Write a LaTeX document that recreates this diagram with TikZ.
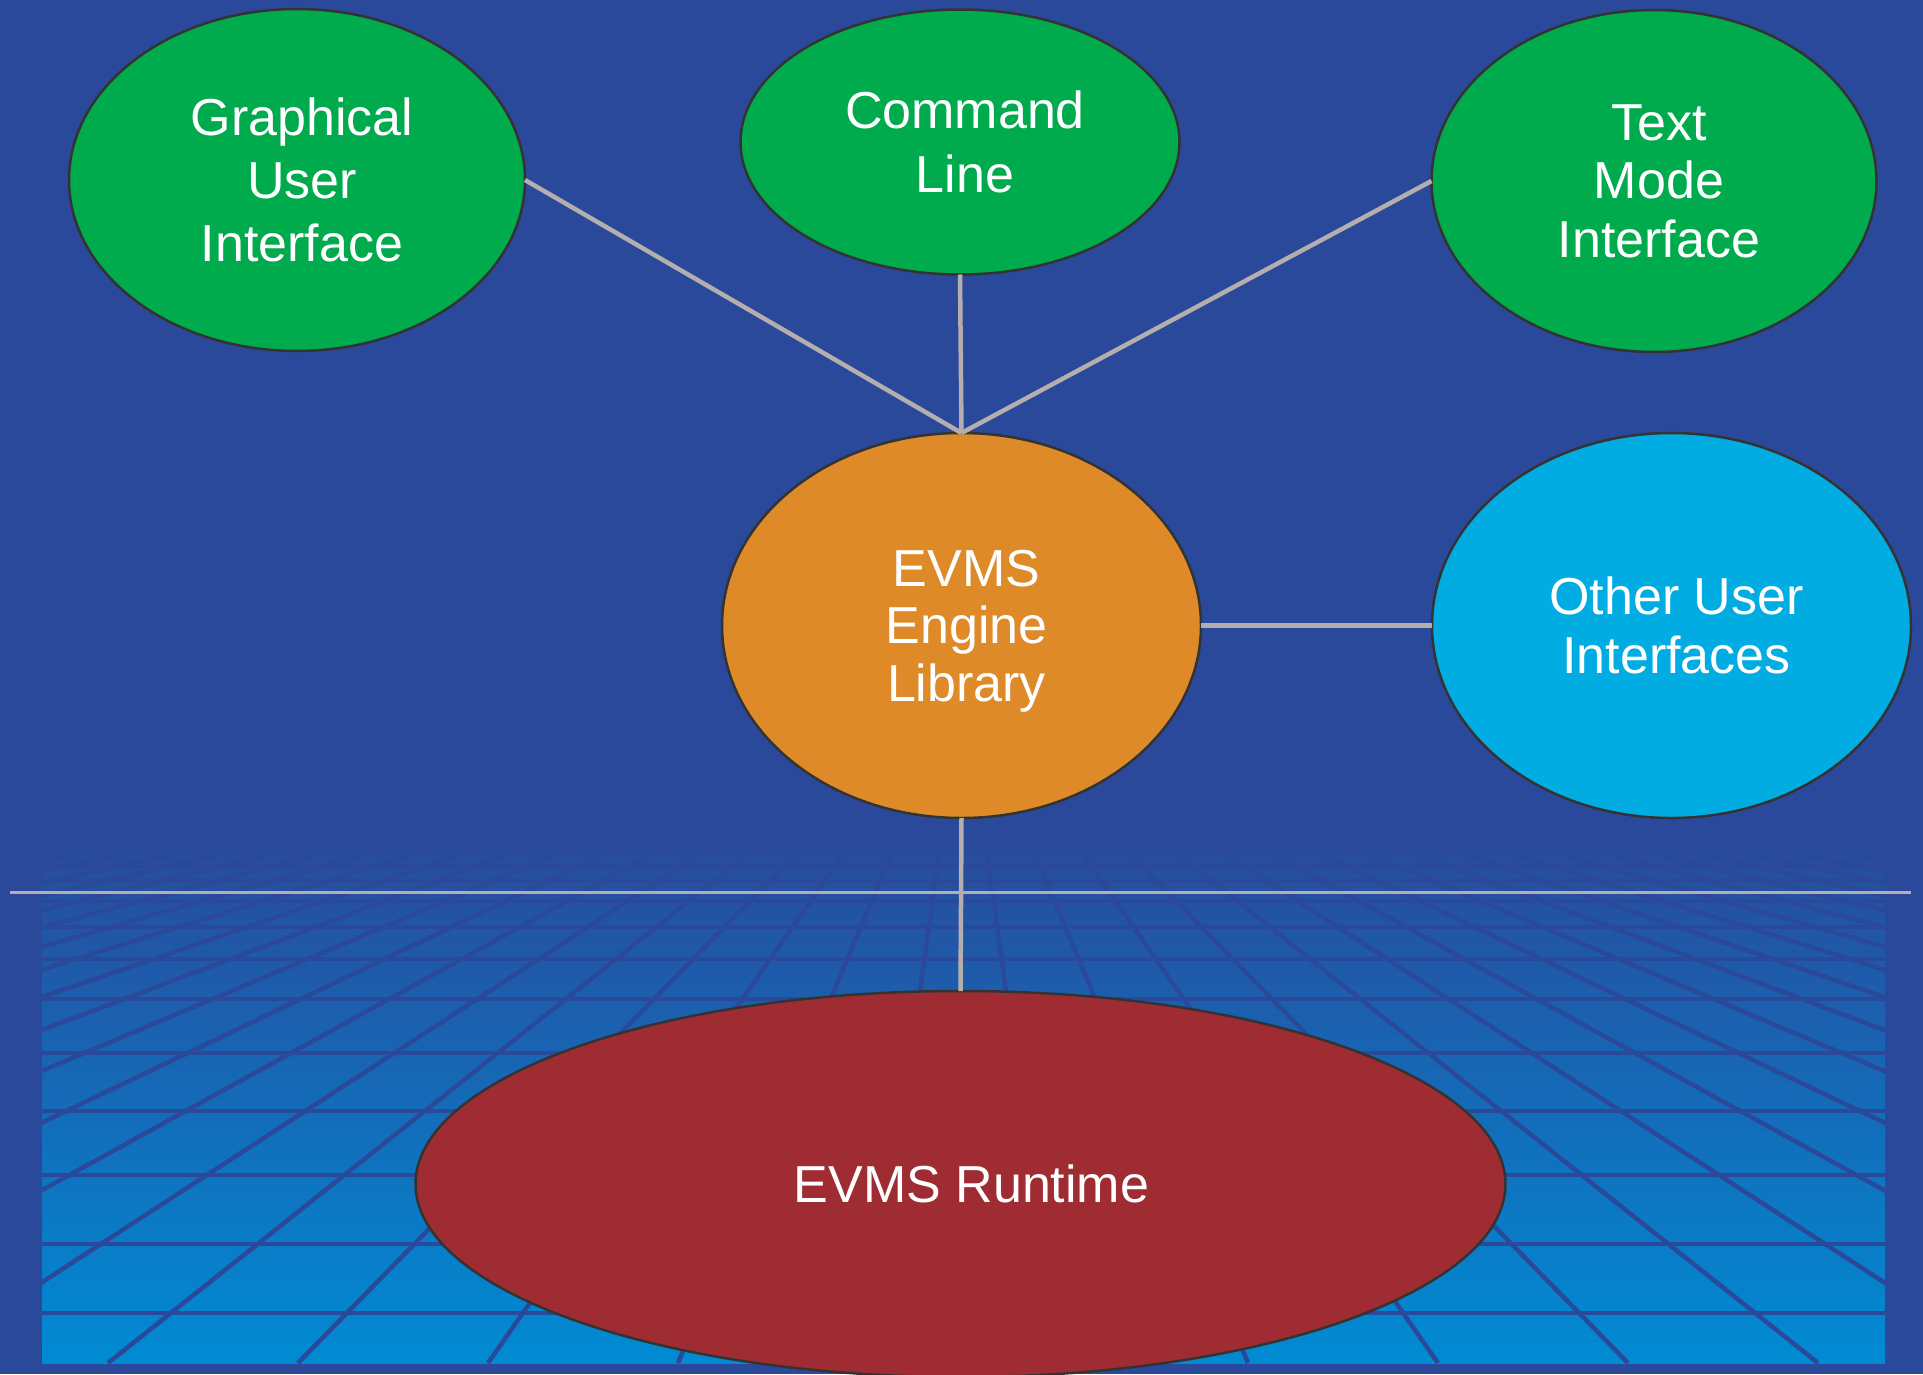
\documentclass[tikz,border=0pt]{standalone}
\usepackage{fontspec}
\setmainfont{Liberation Sans}
\usetikzlibrary{shapes.geometric}
\definecolor{bgblue}{RGB}{42,73,155}
\definecolor{gridlo}{RGB}{0,139,211}
\definecolor{gridmid}{RGB}{12,104,181}
\definecolor{evgreen}{RGB}{0,171,78}
\definecolor{evorange}{RGB}{222,138,40}
\definecolor{evcyan}{RGB}{0,172,226}
\definecolor{evred}{RGB}{160,44,51}
\definecolor{outl}{RGB}{51,51,51}
\definecolor{conn}{RGB}{180,174,174}
\newcommand\tshft{\hspace*{10pt}}
\begin{document}
\begin{tikzpicture}[x=1pt,y=-1pt,
  bubble/.style={ellipse, draw=outl, line width=2.5pt, inner sep=0pt, outer sep=0pt, text=white, align=center, text depth=0pt},
  fsz/.style={font=\fontsize{52}{#1}\selectfont},
  link/.style={draw=conn, line width=4.5pt},
  horizon/.style={draw=conn, line width=3pt},
  gridline/.style={draw=bgblue, line width=4.5pt}]
\fill[bgblue] (0,0) rectangle (1923,1374);
\useasboundingbox (0,0) rectangle (1923,1374);
% perspective grid
\begin{scope}
\clip (42,827) rectangle (1885,1363);
\shade[top color=bgblue, middle color=gridmid, bottom color=gridlo] (42,827) rectangle (1885,1363);
\foreach \yy in {832,838,845,854,866,881,901,927,959,999,1053,1111,1175,1244,1313}
  \draw[gridline] (42,\yy) -- (1885,\yy);
\foreach \k in {0,...,25} {
  \draw[gridline] (963,683) -- ({963-95-190*\k},1363);
  \draw[gridline] (963,683) -- ({963+95+190*\k},1363);
}
\end{scope}
\coordinate (hl) at (10,892);
\coordinate (hr) at (1911,892);
\draw[horizon] (hl) -- (hr);
% nodes
\node[bubble, fsz=63, fill=evgreen, minimum width=456pt, minimum height=342pt] (gui) at (297,180) {\tshft Graphical\\\tshft User\\\tshft Interface};
\node[bubble, fsz=64, fill=evgreen, minimum width=439pt, minimum height=265pt] (cl) at (960,142) {\tshft Command\\\tshft Line};
\node[bubble, fsz=58.5, fill=evgreen, minimum width=445pt, minimum height=342pt] (tm) at (1654,181) {\tshft Text\\\tshft Mode\\\tshft Interface};
\node[bubble, fsz=57.5, fill=evorange, minimum width=479pt, minimum height=385pt] (eng) at (961.5,625.5) {\tshft EVMS\\\tshft Engine\\\tshft Library};
\node[bubble, fsz=59, fill=evcyan, minimum width=479pt, minimum height=385pt] (oth) at (1671.5,625.5) {\tshft Other User\\\tshft Interfaces};
\node[bubble, fsz=60, fill=evred, minimum width=1090pt, minimum height=386pt] (rt) at (960.5,1184) {\hspace*{22pt}EVMS Runtime};
% connectors
\draw[link] (gui.east) -- (eng.north);
\draw[link] (cl.south) -- (eng.north);
\draw[link] (tm.west) -- (eng.north);
\draw[link] (eng.east) -- (oth.west);
\draw[link] (eng.south) -- (rt.north);
\end{tikzpicture}
\end{document}
